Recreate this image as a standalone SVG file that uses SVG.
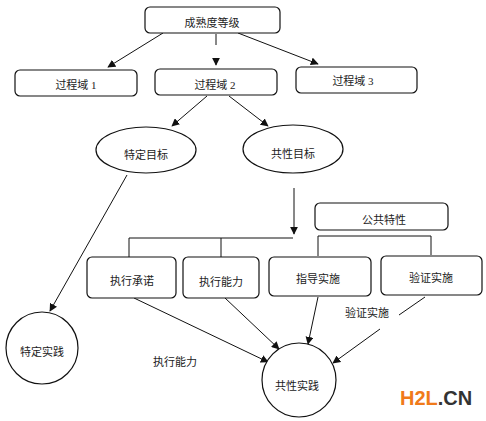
<svg xmlns="http://www.w3.org/2000/svg" width="486" height="421" viewBox="0 0 486 421">
<style>
.box{fill:#fff;stroke:#111;stroke-width:1.2}
.ln{fill:none;stroke:#111;stroke-width:1}
.ar{fill:none;stroke:#111;stroke-width:1;marker-end:url(#ah)}
text{font-family:"Liberation Serif","Noto Sans CJK SC",serif;font-size:11px;fill:#222;text-anchor:middle}
</style>
<defs>
<marker id="ah" viewBox="0 0 10 10" refX="9" refY="5" markerWidth="8" markerHeight="8" markerUnits="userSpaceOnUse" orient="auto">
<path d="M0,0 L10,5 L0,10 z" fill="#111"/>
</marker>
</defs>
<rect width="486" height="421" fill="#fff"/>
<g id="connectors">
<line class="ar" x1="163" y1="33" x2="108" y2="67"/>
<line class="ln" x1="216" y1="34" x2="216" y2="45"/>
<line class="ar" x1="216" y1="58" x2="216" y2="65"/>
<line class="ar" x1="238" y1="33" x2="318" y2="64"/>
<line class="ar" x1="207" y1="96" x2="172" y2="126"/>
<line class="ar" x1="229" y1="96" x2="268" y2="126"/>
<line class="ar" x1="127" y1="175" x2="50" y2="311"/>
<line class="ar" x1="294" y1="188" x2="294" y2="234"/>
<polyline class="ln" points="129,257 129,238 293,238"/>
<line class="ln" x1="221" y1="238" x2="221" y2="257"/>
<polyline class="ln" points="318,256 318,236 431,236 431,255"/>
<line class="ar" x1="134" y1="298" x2="268" y2="362"/>
<line class="ar" x1="225" y1="298" x2="279" y2="349"/>
<line class="ar" x1="318" y1="297" x2="308" y2="344"/>
<line class="ln" x1="425" y1="297" x2="399" y2="315"/>
<line class="ar" x1="380" y1="329" x2="333" y2="363"/>
<text x="367" y="317">验证实施</text>
<text x="175" y="366">执行能力</text>
</g>
<g id="n-level"><rect class="box" x="145" y="7" width="135" height="26" rx="5"/><text x="212" y="27">成熟度等级</text></g>
<g id="n-pa1"><rect class="box" x="15" y="70" width="122" height="26" rx="5"/><text x="76" y="89">过程域 1</text></g>
<g id="n-pa2"><rect class="box" x="155" y="69" width="122" height="26" rx="5"/><text x="215" y="89">过程域 2</text></g>
<g id="n-pa3"><rect class="box" x="296" y="67" width="121" height="26" rx="5"/><text x="353" y="85">过程域 3</text></g>
<g id="n-sg"><ellipse class="box" cx="146" cy="150" rx="50" ry="23"/><text x="146" y="159">特定目标</text></g>
<g id="n-gg"><ellipse class="box" cx="293" cy="149" rx="50" ry="24"/><text x="293" y="158">共性目标</text></g>
<g id="n-cf"><rect class="box" x="315" y="203" width="133" height="27" rx="5"/><text x="384" y="224">公共特性</text></g>
<g id="n-c1"><rect class="box" x="87" y="257" width="89" height="41" rx="5"/><text x="132" y="285">执行承诺</text></g>
<g id="n-c2"><rect class="box" x="183" y="257" width="76" height="41" rx="5"/><text x="221" y="286">执行能力</text></g>
<g id="n-c3"><rect class="box" x="269" y="257" width="102" height="39" rx="5"/><text x="318" y="283">指导实施</text></g>
<g id="n-c4"><rect class="box" x="381" y="256" width="101" height="39" rx="5"/><text x="431" y="282">验证实施</text></g>
<g id="n-sp"><circle class="box" cx="42" cy="348" r="36"/><text x="42" y="356">特定实践</text></g>
<g id="n-gp"><circle class="box" cx="299" cy="380" r="37"/><text x="297" y="390">共性实践</text></g>
<text x="400" y="405" style="font-family:'Liberation Sans',sans-serif;font-size:20px;font-weight:bold;text-anchor:start;fill:#f07a1a">H2L<tspan style="fill:#333">.CN</tspan></text>
</svg>
